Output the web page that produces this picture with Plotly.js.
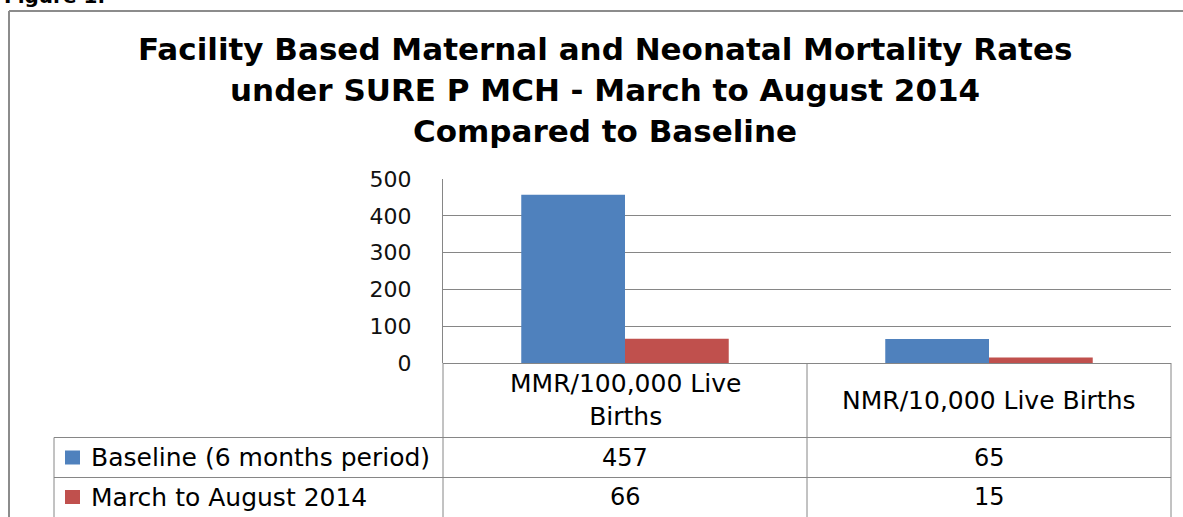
<!DOCTYPE html>
<html><head><meta charset="utf-8">
<script src="https://cdn.plot.ly/plotly-3.0.1.min.js"></script>
<style>html,body{margin:0;padding:0;background:#fff;overflow:hidden}#chart{width:1183px;height:517px}</style>
</head><body><div id="chart"></div>
<script>
// ---- data ----
const categories = ["MMR/100,000 Live Births", "NMR/10,000 Live Births"];
const categoryLabels = ["MMR/100,000 Live<br>Births", "NMR/10,000 Live Births"];
const seriesNames = ["Baseline (6 months period)", "March to August 2014"];
const baseline = [457, 65];
const marchToAugust2014 = [66, 15];
const yTickValues = [0, 100, 200, 300, 400, 500];
const titleLines = [
  "Facility Based Maternal and Neonatal Mortality Rates",
  "under SURE P MCH - March to August 2014",
  "Compared to Baseline"
];
const figureLabel = "Figure 1.";

// ---- layout helpers (pixel -> paper) ----
const W = 1183, H = 517;
const L = 443, R = 1171, T = 179, B = 363;
const px = x => (x - L) / (R - L);
const py = y => (B - y) / (B - T);

const blue = "#4F81BD", red = "#C0504D", grid = "#868686", frame = "#8c8c8c";
const font = "DejaVu Sans, sans-serif";
const seriesValues = [baseline, marchToAugust2014];
const seriesColors = [blue, red];

const traces = seriesValues.map((vals, i) => ({
  type: "bar", x: categories, y: vals, name: seriesNames[i],
  marker: {color: seriesColors[i], line: {width: 0}}, hoverinfo: "skip"
}));

const line = (x0, y0, x1, y1, color, w) => ({
  type: "line", xref: "paper", yref: "paper",
  x0: px(x0), y0: py(y0), x1: px(x1), y1: py(y1),
  line: {color: color || grid, width: w || 1}, layer: "above"
});

const shapes = [
  // outer frame
  line(9, 11, 1183, 11, frame, 2),
  line(9, 11, 9, 517, frame, 2),
  // table grid
  line(443, 363, 443, 517),
  line(807, 363, 807, 517),
  line(1171, 363, 1171, 517),
  line(54, 437.5, 1171, 437.5),
  line(54, 477.5, 1171, 477.5),
  line(54, 437.5, 54, 517),
];
// legend keys in table
const rowCenters = [457.5, 497];
rowCenters.forEach((yc, i) => {
  shapes.push({type: "rect", xref: "paper", yref: "paper",
    x0: px(65), x1: px(80), y0: py(yc - 7), y1: py(yc + 7),
    fillcolor: seriesColors[i], line: {width: 0}});
});

const annotations = [];
titleLines.forEach((t, i) => {
  annotations.push({xref: "paper", yref: "paper", x: px(605), y: py(49 + 41 * i),
    text: "<b>" + t + "</b>", showarrow: false, xanchor: "center", yanchor: "middle",
    font: {family: font, size: 31, color: "#000"}});
});
annotations.push({xref: "paper", yref: "paper", x: px(2), y: py(10), text: "<b>" + figureLabel + "</b>",
  showarrow: false, xanchor: "left", yanchor: "bottom", font: {family: font, size: 20, color: "#000"}});
categoryLabels.forEach((c, i) => {
  annotations.push({xref: "x", yref: "paper", x: categories[i], y: py(400), text: c,
    showarrow: false, xanchor: "center", yanchor: "middle",
    font: {family: font, size: 25, color: "#000"}});
});
seriesNames.forEach((s, i) => {
  annotations.push({xref: "paper", yref: "paper", x: px(89), y: py(rowCenters[i]), text: s,
    showarrow: false, xanchor: "left", yanchor: "middle",
    font: {family: font, size: 25, color: "#000"}});
  seriesValues[i].forEach((v, j) => {
    annotations.push({xref: "x", yref: "paper", x: categories[j], y: py(rowCenters[i]), text: String(v),
      showarrow: false, xanchor: "center", yanchor: "middle",
      font: {family: font, size: 24, color: "#000"}});
  });
});

const layout = {
  width: W, height: H,
  margin: {l: L, r: W - R, t: T, b: H - B, pad: 0},
  paper_bgcolor: "#fff", plot_bgcolor: "#fff",
  showlegend: false, barmode: "group", bargap: 0.43, bargroupgap: 0,
  xaxis: {type: "category", range: [-0.5, 1.5], showticklabels: false, showgrid: false,
    zeroline: false, showline: false, ticks: ""},
  yaxis: {range: [0, 500], tickvals: yTickValues, ticktext: yTickValues.map(String),
    showgrid: true, gridcolor: grid, gridwidth: 1, zeroline: true, zerolinecolor: grid, zerolinewidth: 1,
    showline: true, linecolor: grid, linewidth: 1, ticks: "", ticklabelstandoff: 26,
    tickfont: {family: font, size: 22, color: "#111"}},
  shapes: shapes, annotations: annotations
};

Plotly.newPlot("chart", traces, layout, {staticPlot: true, displayModeBar: false});
</script></body></html>
